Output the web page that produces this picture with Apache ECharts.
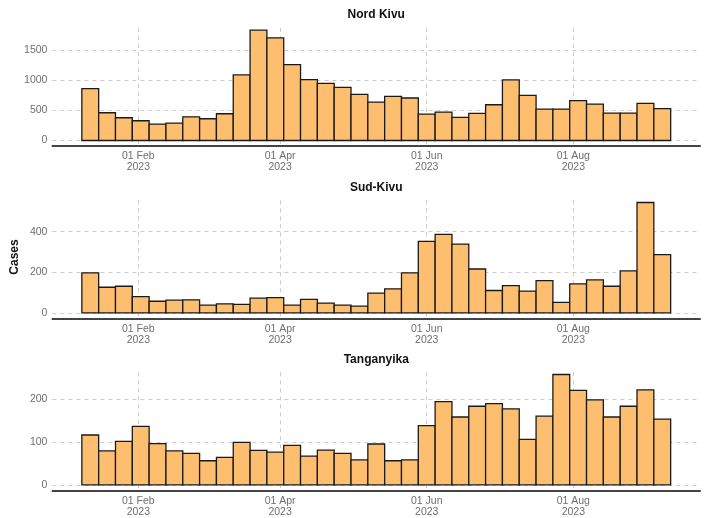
<!DOCTYPE html>
<html>
<head>
<meta charset="utf-8">
<script src="https://cdn.jsdelivr.net/npm/echarts@6/dist/echarts.min.js"></script>
<style>html,body{margin:0;padding:0;background:#fff}#c{width:707px;height:518px}</style>
</head>
<body>
<div id="c"></div>
<script>
// Week centre dates (weekly bins)
const weeks = ['2023-01-12','2023-01-19','2023-01-26','2023-02-02','2023-02-09','2023-02-16','2023-02-23',
  '2023-03-02','2023-03-09','2023-03-16','2023-03-23','2023-03-30','2023-04-06','2023-04-13','2023-04-20',
  '2023-04-27','2023-05-04','2023-05-11','2023-05-18','2023-05-25','2023-06-01','2023-06-08','2023-06-15',
  '2023-06-22','2023-06-29','2023-07-06','2023-07-13','2023-07-20','2023-07-27','2023-08-03','2023-08-10',
  '2023-08-17','2023-08-24','2023-08-31','2023-09-07'];
const panels = ['Nord Kivu', 'Sud-Kivu', 'Tanganyika'];
const nordKivu = [861,461,378,328,272,289,394,361,444,1089,1833,1706,1261,1011,950,883,767,639,733,706,
  439,472,383,450,594,1006,750,522,522,661,606,456,456,617,528];
const sudKivu = [197,126,131,80,57,62,64,38,44,41,72,75,38,66,48,38,33,97,118,197,352,387,339,216,110,134,
  107,159,51,143,162,131,207,544,287];
const tanganyika = [116,79,101,136,96,79,73,56,64,99,80,76,92,67,81,73,58,95,56,58,138,194,158,183,189,177,
  106,160,257,220,198,158,183,221,153];
const yTicks = [[0,500,1000,1500],[0,200,400],[0,100,200]];
const xTickDates = ['2023-02-01','2023-04-01','2023-06-01','2023-08-01'];
const xRange = ['2022-12-27T06:00:00Z','2023-09-22T18:00:00Z'];

const series = [nordKivu, sudKivu, tanganyika];
const DAY = 86400000;
const t = s => +new Date(s.length === 10 ? s + 'T00:00:00Z' : s);
const monthNames = ['Jan','Feb','Mar','Apr','May','Jun','Jul','Aug','Sep','Oct','Nov','Dec'];
const FONT = 'Liberation Sans, Arial, sans-serif';
const tops = [28, 200.3, 372.3];
const H = 118;
const L = 52.4, R = 6.9;

const grid = [], xAxis = [], yAxis = [], ser = [], graphic = [];
panels.forEach((name, i) => {
  const vals = series[i];
  const m = Math.max(...vals);
  grid.push({left: L, right: R, top: tops[i], height: H});
  xAxis.push({
    type: 'value', gridIndex: i, min: t(xRange[0]), max: t(xRange[1]),
    axisLine: {show: true, onZero: false, lineStyle: {color: '#444', width: 1.8}},
    axisTick: {show: false, customValues: xTickDates.map(t)},
    splitLine: {show: true, lineStyle: {color: '#cccccc', type: [4, 4], width: 1}},
    axisLabel: {
      customValues: xTickDates.map(t), color: '#6e6e6e', fontSize: 10.5, fontFamily: FONT,
      lineHeight: 11, margin: 5, hideOverlap: false,
      formatter: v => { const d = new Date(v); return '01 ' + monthNames[d.getUTCMonth()] + '\n' + d.getUTCFullYear(); }
    }
  });
  yAxis.push({
    type: 'value', gridIndex: i, min: -0.05 * m, max: 1.02 * m,
    axisLine: {show: false},
    axisTick: {show: false, customValues: yTicks[i]},
    splitLine: {show: true, lineStyle: {color: '#cccccc', type: [4, 4], width: 1}},
    axisLabel: {customValues: yTicks[i], color: '#6e6e6e', fontSize: 10.5, fontFamily: FONT, margin: 5,
      formatter: v => String(v)}
  });
  ser.push({
    type: 'custom', xAxisIndex: i, yAxisIndex: i, clip: true,
    data: weeks.map((w, k) => [t(w), vals[k]]),
    encode: {x: 0, y: 1},
    renderItem: (params, api) => {
      const c = api.value(0), v = api.value(1);
      const p0 = api.coord([c - 3.5 * DAY, v]);
      const p1 = api.coord([c + 3.5 * DAY, 0]);
      return {
        type: 'rect',
        shape: {x: p0[0], y: p0[1], width: p1[0] - p0[0], height: p1[1] - p0[1]},
        style: {fill: '#FDBF6F', stroke: '#1a1a1a', lineWidth: 1.3}
      };
    }
  });
  graphic.push({
    type: 'text', x: L + (707 - L - R) / 2, y: tops[i] - 13,
    style: {text: name, textAlign: 'center', textVerticalAlign: 'middle',
      font: 'bold 12px ' + FONT, fill: '#111'}
  });
});
graphic.push({
  type: 'text', x: 15, y: 257, rotation: Math.PI / 2,
  style: {text: 'Cases', textAlign: 'center', textVerticalAlign: 'middle',
    font: 'bold 12px ' + FONT, fill: '#111'}
});

const chart = echarts.init(document.getElementById('c'), null, {renderer: 'canvas'});
chart.setOption({
  animation: false,
  backgroundColor: '#fff',
  grid, xAxis, yAxis, series: ser, graphic
});
</script>
</body>
</html>
